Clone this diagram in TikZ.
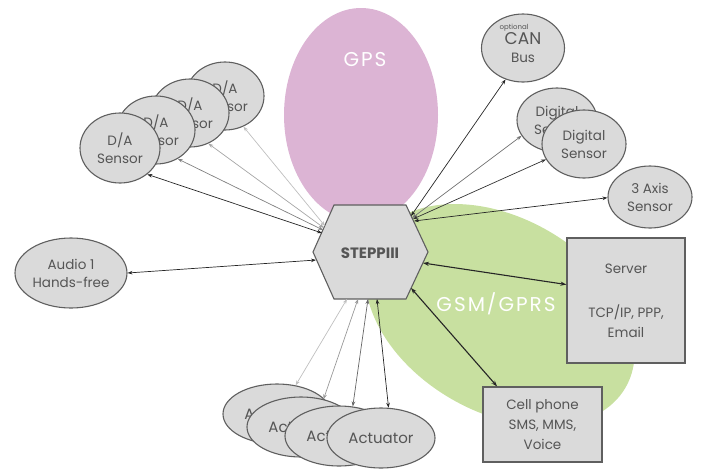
\documentclass[tikz,border=0pt]{standalone}
\usepackage{fontspec}
\setmainfont{Poppins}
\usetikzlibrary{shapes.geometric,arrows.meta}
\definecolor{gpspink}{RGB}{220,180,212}
\definecolor{gsmgreen}{RGB}{200,224,160}
\definecolor{nodefill}{RGB}{218,218,218}
\definecolor{edgegray}{RGB}{95,95,95}
\definecolor{txtgray}{RGB}{85,85,85}
\begin{document}
\begin{tikzpicture}[x=1pt,y=-1pt,
  sensor/.style={ellipse, draw=edgegray, fill=nodefill, line width=1.1pt, inner sep=0pt,
    align=center, text=txtgray, font=\fontsize{13.5}{18}\selectfont},
  actnode/.style={sensor, minimum width=108pt, minimum height=60pt, font=\fontsize{15}{18}\selectfont},
  boxnode/.style={rectangle, draw=edgegray, fill=nodefill, line width=1.2pt, inner sep=0pt,
    align=center, text=txtgray, font=\fontsize{13.5}{20}\selectfont},
  conn/.style={{Stealth[length=5pt,width=3.6pt]}-{Stealth[length=5pt,width=3.6pt]}, line width=0.7pt},
  bigconn/.style={{Stealth[length=6pt,width=4.2pt]}-{Stealth[length=6pt,width=4.2pt]}, line width=1.1pt, draw=black!85},
  cloudlbl/.style={text=white, font=\fontsize{20}{22}\selectfont\addfontfeature{LetterSpace=10}},
]
\useasboundingbox (0,0) rectangle (701,469);
% background regions
\fill[gsmgreen, shift={(500,315)}, rotate=-30] (0,0) ellipse [x radius=145pt, y radius=97pt];
\fill[gpspink] (361,115) ellipse [x radius=77pt, y radius=107pt];
\node[cloudlbl] (gpslbl) at (365,60) {GPS};
\node[cloudlbl] (gsmlbl) at (496,304) {GSM/GPRS};

% hub hexagon
\draw[edgegray, fill=nodefill, line width=1.1pt]
  (313,252) -- (334,205) -- (406,205) -- (428,252) -- (406,299) -- (334,299) -- cycle;
\node[text=txtgray, font=\fontsize{15}{17}\selectfont\bfseries] (hub) at (370,253) {STEPPIII};

% D/A sensors (back to front)
\node[sensor, minimum width=78pt, minimum height=68pt] (DA4) at (225,96) {D/A\\Sensor};
\node[sensor, minimum width=78pt, minimum height=68pt] (DA3) at (190,113) {D/A\\Sensor};
\node[sensor, minimum width=78pt, minimum height=68pt] (DA2) at (156,130) {D/A\\Sensor};
\node[sensor, minimum width=80pt, minimum height=70pt] (DA1) at (120,148) {D/A\\Sensor};

% right sensors
\node[sensor, minimum width=83pt, minimum height=68pt] (CAN) at (523,48)
  {{\fontsize{17}{20}\selectfont CAN}\\Bus};
\node[text=txtgray, font=\fontsize{7}{8}\selectfont] (optlbl) at (514,28) {optional};
\node[sensor, minimum width=80pt, minimum height=64pt] (DIG1) at (557,120) {Digital\\Sensor};
\node[sensor, minimum width=84pt, minimum height=68pt] (DIG2) at (584,144) {Digital\\Sensor};
\node[sensor, minimum width=84pt, minimum height=62pt] (AXIS) at (650,197) {3 Axis\\Sensor};

% audio
\node[sensor, minimum width=112pt, minimum height=70pt] (AUD) at (71,273) {Audio 1\\Hands-free};

% actuators (back to front)
\node[actnode] (ACT1) at (277,414) {Actuator};
\node[actnode] (ACT2) at (301,427) {Actuator};
\node[actnode] (ACT3) at (339,436) {Actuator};
\node[actnode] (ACT4) at (381,438) {Actuator};

% boxes
\node[boxnode, minimum width=118pt, minimum height=125pt] (SRV) at (626,300.5)
  {Server\\[24pt]TCP/IP, PPP,\\Email};
\node[boxnode, minimum width=119pt, minimum height=75pt] (CELL) at (542.5,424.5)
  {Cell phone\\SMS, MMS,\\Voice};

% hub attachment points
\coordinate (hDA1) at (322,233);
\coordinate (hDA2) at (323,230);
\coordinate (hDA3) at (324,228);
\coordinate (hDA4) at (325,226);
\coordinate (hCAN) at (411,216);
\coordinate (hDIG1) at (412,218);
\coordinate (hDIG2) at (413,219);
\coordinate (hAXIS) at (414,221);
\coordinate (hAUD) at (316,260);
\coordinate (hSRV) at (423,263);
\coordinate (hCELL) at (411,288);
\coordinate (hACT1) at (347,299);
\coordinate (hACT2) at (358,299);
\coordinate (hACT3) at (368,299);
\coordinate (hACT4) at (377,299);

% connectors
\draw[conn, draw=black!25] (hDA4) -- (DA4.-59.5);
\draw[conn, draw=black!35] (hDA3) -- (DA3.-59.5);
\draw[conn, draw=black!50] (hDA2) -- (DA2.-53.7);
\draw[conn, draw=black!85] (hDA1) -- (DA1.-44);

\draw[conn, draw=black!85] (hCAN) -- (CAN.241.6);
\draw[conn, draw=black!55] (hDIG1) -- (DIG1.204.8);
\draw[conn, draw=black!80] (hDIG2) -- (DIG2.202.3);
\draw[conn, draw=black!85] (hAXIS) -- (AXIS.181);

\draw[conn, draw=black!85] (hAUD) -- (AUD.0);

\draw[conn, draw=black!25] (hACT1) -- (ACT1.57);
\draw[conn, draw=black!40] (hACT2) -- (ACT2.51);
\draw[conn, draw=black!60] (hACT3) -- (ACT3.65);
\draw[conn, draw=black!85] (hACT4) -- (ACT4.76);

\draw[bigconn] (hSRV) -- (SRV.165);
\draw[bigconn] (hCELL) -- (CELL.140);
\end{tikzpicture}
\end{document}
